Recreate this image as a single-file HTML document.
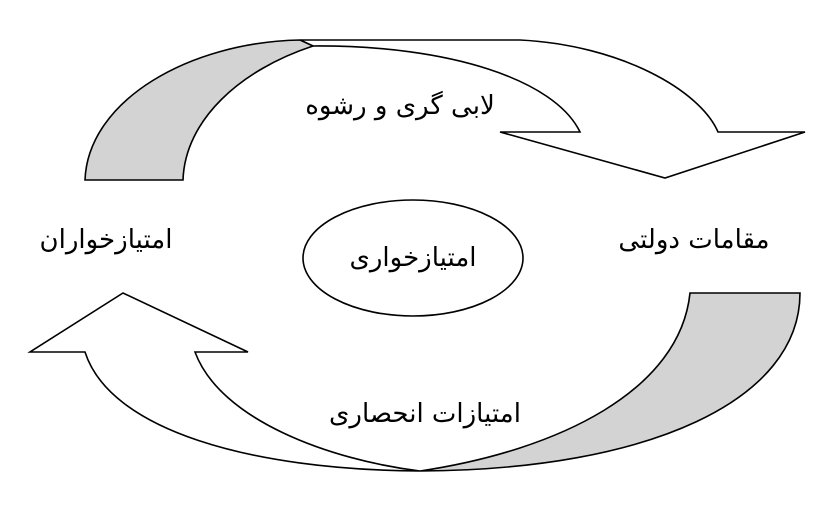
<!DOCTYPE html>
<html><head><meta charset="utf-8"><style>
html,body{margin:0;padding:0;background:#fff;}
svg{display:block;}
text{font-family:"DejaVu Sans","Liberation Sans",sans-serif;fill:#000;}
</style></head><body>
<svg width="829" height="519" viewBox="0 0 829 519" xmlns="http://www.w3.org/2000/svg">
<g stroke="#000" stroke-width="1.6" stroke-linejoin="miter">
<path d="M300,40 L520,40 C620,45 700,90 718,132 L805,132 L665,178 L500,132 L580,132 C555,80 450,45 313,46 Z" fill="#fff"/>
<path d="M85,180 C88,100 190,42 300,40 L313,46 C240,70 185,120 183,180 Z" fill="#d3d3d3"/>
<path d="M420,471 C250,470 110,430 85,352 L30,352 L123,293 L248,352 L195,352 C220,420 330,460 420,471 Z" fill="#fff"/>
<path d="M690,293 L800,293 C800,400 650,470 420,471 C560,450 680,390 690,293 Z" fill="#d3d3d3"/>
<ellipse cx="413" cy="258" rx="110" ry="58" fill="#fff"/>
</g>
<g font-size="26" text-anchor="middle" direction="rtl">
<text x="400" y="114">لابی گری و رشوه</text>
<text x="106" y="248">امتیازخواران</text>
<text x="694" y="248">مقامات دولتی</text>
<text x="413" y="266">امتیازخواری</text>
<text x="425" y="422">امتیازات انحصاری</text>
</g>
</svg>
</body></html>
